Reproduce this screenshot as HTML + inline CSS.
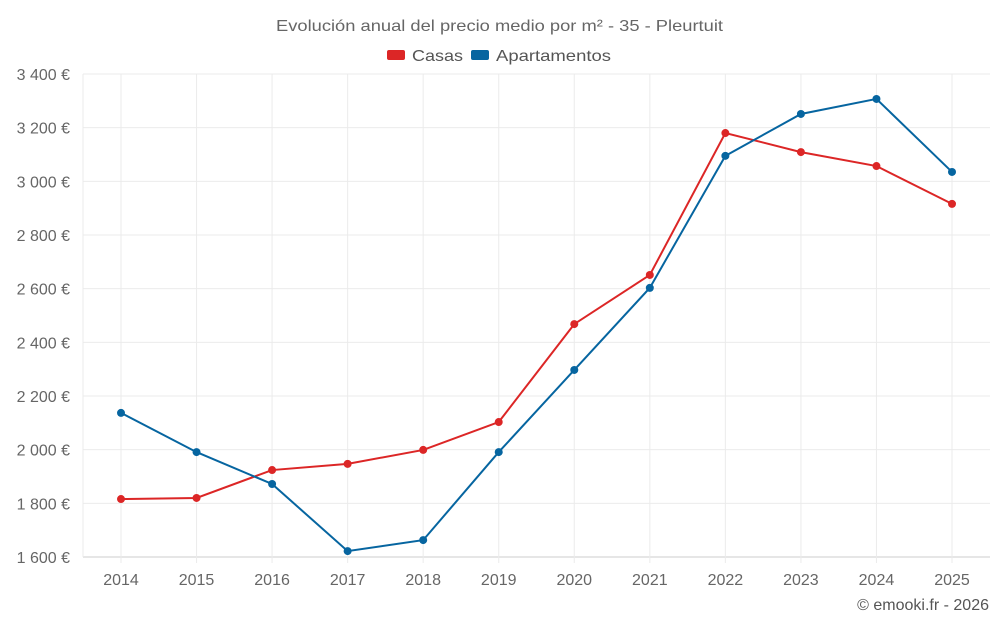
<!DOCTYPE html>
<html><head><meta charset="utf-8"><style>
body{margin:0;background:#fff;font-family:"Liberation Sans",sans-serif;}
svg text{font-family:"Liberation Sans",sans-serif;}
</style></head><body>
<svg id="chart" width="1000" height="625" xmlns="http://www.w3.org/2000/svg">
<text x="276" y="31" textLength="447" lengthAdjust="spacingAndGlyphs" font-size="16" fill="#666">Evolución anual del precio medio por m² - 35 - Pleurtuit</text>
<g>
<g><rect x="387" y="50" width="18" height="10" fill="#dc2626" rx="2"/><text x="412" y="61" textLength="51" lengthAdjust="spacingAndGlyphs" font-size="16" fill="#555">Casas</text></g>
<g><rect x="471" y="50" width="18" height="10" fill="#0665a0" rx="2"/><text x="496" y="61" textLength="115" lengthAdjust="spacingAndGlyphs" font-size="16" fill="#555">Apartamentos</text></g>
</g>
<g id="grid"></g><g id="axes"></g><g id="series"></g>
<text x="989" y="610" text-anchor="end" font-size="16" fill="#555">© emooki.fr - 2026</text>
</svg>
<script>
const years=[2014,2015,2016,2017,2018,2019,2020,2021,2022,2023,2024,2025];
const casas=[1816,1820,1924,1947,1999,2103,2468,2651,3180,3109,3057,2916];
const apartamentos=[2137,1991,1872,1622,1663,1991,2297,2603,3095,3251,3307,3035];
const yTicks=[1600,1800,2000,2200,2400,2600,2800,3000,3200,3400];
const yTickLabels=["1 600 €","1 800 €","2 000 €","2 200 €","2 400 €","2 600 €","2 800 €","3 000 €","3 200 €","3 400 €"];
const NS="http://www.w3.org/2000/svg";
const L=83,R=990,T=74,B=557;
const x=i=>121+i*(952-121)/(years.length-1);
const y=v=>B-(v-1600)/(3400-1600)*(B-T);
function mk(tag,attrs,parent){const e=document.createElementNS(NS,tag);for(const k in attrs)e.setAttribute(k,attrs[k]);document.getElementById(parent).appendChild(e);return e;}
yTicks.forEach((t,i)=>{
 const l=mk('line',{x1:L,x2:R,y1:y(t),y2:y(t),stroke:i==0?'#ccc':'#ebebeb'},'grid');
 
 
 const tx=mk('text',{x:70,y:y(t)+6,'text-anchor':'end','font-size':16,fill:'#666'},'axes');
 tx.textContent=yTickLabels[i];
 
 
});
mk('line',{x1:L,x2:L,y1:T,y2:B,stroke:'#ebebeb'},'grid');
years.forEach((yr,i)=>{
 const l=mk('line',{x1:x(i),x2:x(i),y1:T,y2:B+6,stroke:'#ebebeb'},'grid');
 
 
 const tx=mk('text',{x:x(i),y:585,'text-anchor':'middle','font-size':16,fill:'#666'},'axes');
 tx.textContent=yr;
 
 
});
function series(data,color,name){
 const p=mk('polyline',{points:data.map((v,i)=>x(i)+','+y(v)).join(' '),fill:'none',stroke:color,'stroke-width':2},'series');
 
 
 data.forEach((v,i)=>{
  const c=mk('circle',{cx:x(i),cy:y(v),r:4,fill:color},'series');
  
  
 });
}
series(casas,'#dc2626','casas');
series(apartamentos,'#0665a0','apartamentos');
</script>
</body></html>
